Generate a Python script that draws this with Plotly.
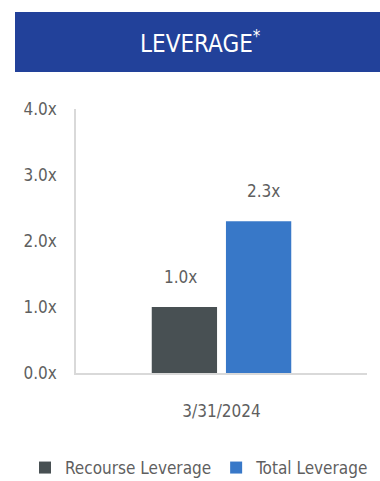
import plotly.graph_objects as go

# Leverage as of the reporting date
categories = ["3/31/2024"]
series_names = ["Recourse Leverage", "Total Leverage"]
recourse_leverage = [1.0]
total_leverage = [2.3]
y_ticks = [0, 1, 2, 3, 4]
y_tick_labels = [f"{v:.1f}x" for v in y_ticks]
title_text = "LEVERAGE<sup>*</sup>"

W, H = 380, 481
L, R, T, B = 76, 13, 109, 108
plot_w = W - L - R
plot_h = H - T - B


def px_x(px):
    return (px - L) / plot_w


def px_y(py):
    return (H - B - py) / plot_h


FONT = "DejaVu Sans Condensed, Liberation Sans Narrow, sans-serif"
GRAY = "#5f5f5f"
colors = ["#485053", "#3878c8"]

fig = go.Figure()
for name, vals, col in zip(series_names, [recourse_leverage, total_leverage], colors):
    fig.add_trace(go.Bar(x=categories, y=vals, name=name, marker_color=col,
                         marker_line_width=0))

# value labels above each bar
offsets = [-41.5, 41.5]
for vals, dx in zip([recourse_leverage, total_leverage], offsets):
    for c, v in zip(categories, vals):
        fig.add_annotation(x=c, y=v, xshift=dx, yshift=18, yanchor="bottom",
                           text=f"{v:.1f}x", showarrow=False,
                           font=dict(family=FONT, size=17, color=GRAY))

# title banner
fig.add_shape(type="rect", xref="paper", yref="paper",
              x0=px_x(15), x1=px_x(382), y0=px_y(72), y1=px_y(12),
              fillcolor="#22419a", line_width=0, layer="below")
fig.add_annotation(xref="paper", yref="paper", x=px_x(200), y=px_y(42),
                   text=title_text, showarrow=False, xanchor="center", yanchor="middle",
                   font=dict(family=FONT, size=24, color="white"))

fig.update_layout(
    width=W, height=H,
    margin=dict(l=L, r=R, t=T, b=B, autoexpand=False),
    paper_bgcolor="white", plot_bgcolor="white",
    barmode="group", bargap=0.49, bargroupgap=0.12,
    showlegend=True,
    legend=dict(orientation="h", xref="paper", x=px_x(25), xanchor="left",
                yref="paper", y=px_y(468), yanchor="middle",
                font=dict(family=FONT, size=17, color=GRAY),
                itemwidth=30, tracegroupgap=0),
    xaxis=dict(showline=True, linecolor="#d9d9d9", linewidth=1.5,
               showgrid=False, ticks="", ticklabelstandoff=22,
               tickfont=dict(family=FONT, size=17, color=GRAY)),
    yaxis=dict(range=[0, 4], tickvals=y_ticks, ticktext=y_tick_labels,
               showline=True, linecolor="#d9d9d9", linewidth=1.5,
               showgrid=False, zeroline=False, ticks="", ticklabelstandoff=14,
               tickfont=dict(family=FONT, size=17, color=GRAY)),
)

fig.write_html("out.html")
